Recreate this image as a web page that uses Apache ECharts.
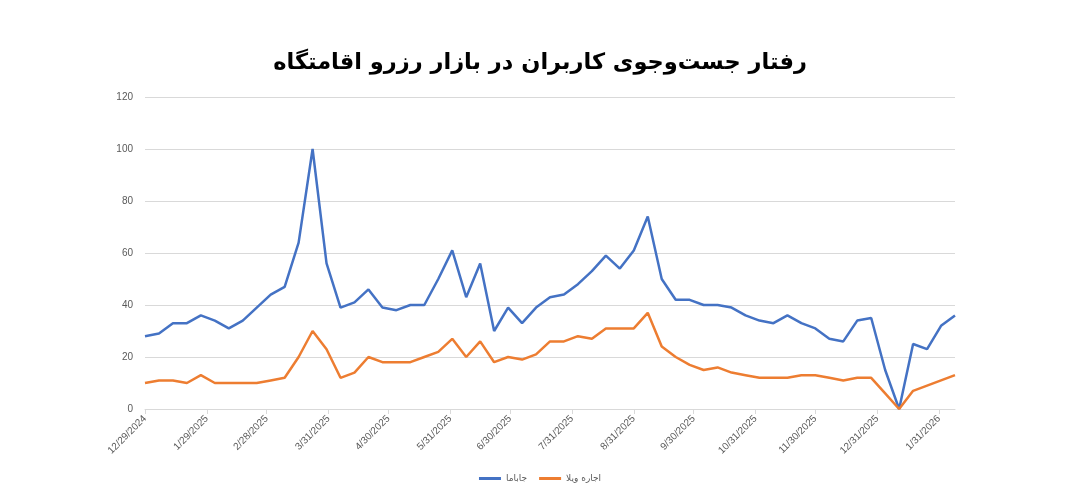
<!DOCTYPE html>
<html>
<head>
<meta charset="utf-8">
<script src="https://cdn.jsdelivr.net/npm/echarts@6/dist/echarts.min.js"></script>
<style>
  html, body { margin: 0; padding: 0; background: #fff; }
  #main { width: 1080px; height: 494px; }
</style>
</head>
<body>
<div id="main"></div>
<script>
// weekly points, first week starts 12/29/2024
var startDate = [2024, 12, 29];
var jabama = [28, 29, 33, 33, 36, 34, 31, 34, 39, 44, 47, 64, 100, 56, 39, 41, 46, 39, 38, 40,
              40, 50, 61, 43, 56, 30, 39, 33, 39, 43, 44, 48, 53, 59, 54, 61, 74, 50, 42, 42,
              40, 40, 39, 36, 34, 33, 36, 33, 31, 27, 26, 34, 35, 15, 0, 25, 23, 32, 36];
var ejareVilla = [10, 11, 11, 10, 13, 10, 10, 10, 10, 11, 12, 20, 30, 23, 12, 14, 20, 18, 18, 18,
                  20, 22, 27, 20, 26, 18, 20, 19, 21, 26, 26, 28, 27, 31, 31, 31, 37, 24, 20, 17,
                  15, 16, 14, 13, 12, 12, 12, 13, 13, 12, 11, 12, 12, 6, 0, 7, 9, 11, 13];
var tickLabels = ['12/29/2024', '1/29/2025', '2/28/2025', '3/31/2025', '4/30/2025', '5/31/2025',
                  '6/30/2025', '7/31/2025', '8/31/2025', '9/30/2025', '10/31/2025', '11/30/2025',
                  '12/31/2025', '1/31/2026'];
var yTicks = [0, 20, 40, 60, 80, 100, 120];

var DAY = 86400000;
var start = Date.UTC(startDate[0], startDate[1] - 1, startDate[2]);
// x positions are days since the start date
function dayOf(s) {
    var p = s.split('/');
    return Math.round((Date.UTC(+p[2], +p[0] - 1, +p[1]) - start) / DAY);
}
function fmt(day) {
    var d = new Date(start + day * DAY);
    return (d.getUTCMonth() + 1) + '/' + d.getUTCDate() + '/' + d.getUTCFullYear();
}
var tickDays = tickLabels.map(dayOf);
var lastDay = (jabama.length - 1) * 7;

var chart = echarts.init(document.getElementById('main'));
chart.setOption({
    animation: false,
    title: {
        text: 'رفتار جست\u200cوجوی کاربران در بازار رزرو اقامتگاه',
        left: 'center',
        top: 47,
        textStyle: {
            fontFamily: 'DejaVu Sans',
            fontSize: 22.5,
            fontWeight: 'bold',
            color: '#000'
        }
    },
    legend: {
        bottom: 6,
        left: 'center',
        itemWidth: 22,
        itemHeight: 3,
        itemGap: 12,
        icon: 'rect',
        textStyle: { fontFamily: 'DejaVu Sans', fontSize: 9, color: '#595959' },
        data: ['جاباما', 'اجاره ویلا']
    },
    grid: {
        left: 145,
        right: 125,
        top: 97,
        bottom: 85
    },
    xAxis: {
        type: 'value',
        min: 0,
        max: lastDay,
        axisLine: { show: true, onZero: false, lineStyle: { color: '#d9d9d9', width: 1 } },
        axisTick: {
            show: true,
            customValues: tickDays,
            length: 5,
            lineStyle: { color: '#d9d9d9' }
        },
        axisLabel: {
            customValues: tickDays,
            rotate: 45,
            fontFamily: 'Liberation Sans',
            fontSize: 10,
            color: '#595959',
            formatter: function (v) { return fmt(v); }
        },
        splitLine: { show: false }
    },
    yAxis: {
        type: 'value',
        min: yTicks[0],
        max: yTicks[yTicks.length - 1],
        interval: 20,
        axisLine: { show: false },
        axisTick: { show: false },
        axisLabel: { fontFamily: 'Liberation Sans', fontSize: 10, color: '#595959', margin: 12 },
        splitLine: { lineStyle: { color: '#d9d9d9', width: 1 } }
    },
    series: [
        {
            name: 'جاباما',
            type: 'line',
            symbol: 'none',
            color: '#4472C4',
            lineStyle: { width: 2.5, color: '#4472C4' },
            data: jabama.map(function (v, i) { return [i * 7, v]; })
        },
        {
            name: 'اجاره ویلا',
            type: 'line',
            symbol: 'none',
            color: '#ED7D31',
            lineStyle: { width: 2.5, color: '#ED7D31' },
            data: ejareVilla.map(function (v, i) { return [i * 7, v]; })
        }
    ]
});
</script>
</body>
</html>
